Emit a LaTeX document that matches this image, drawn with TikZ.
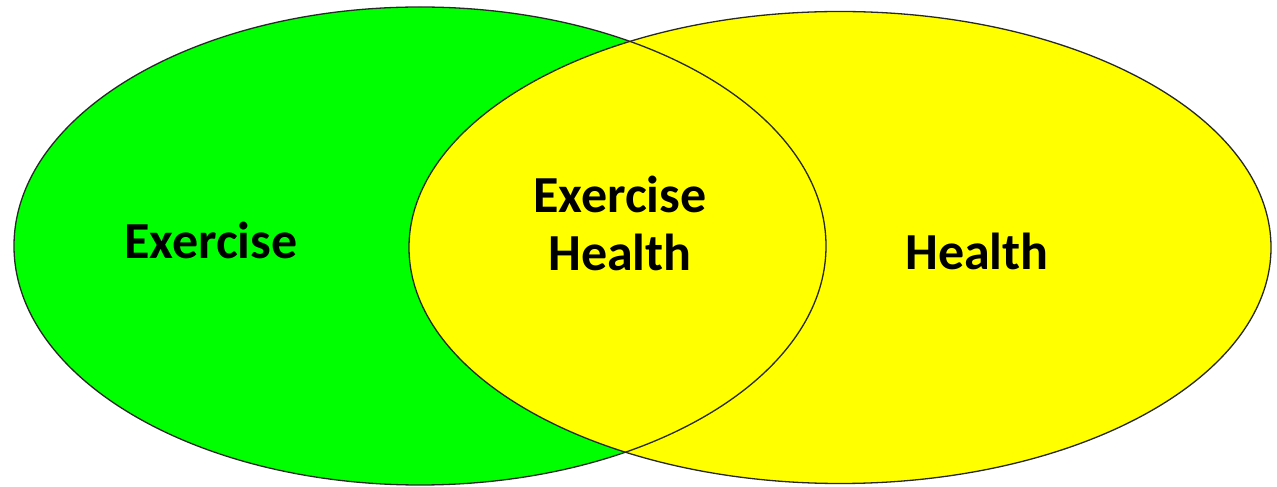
\documentclass[tikz,border=0pt]{standalone}
\usepackage{fontspec}
\setmainfont{Carlito}
\definecolor{vgreen}{RGB}{0,255,0}
\definecolor{vyellow}{RGB}{255,255,0}
\definecolor{vline}{RGB}{40,40,40}
\begin{document}
\begin{tikzpicture}[x=1pt,y=1pt,
  lbl/.style={anchor=base, inner sep=0pt, font=\fontsize{52}{58}\selectfont\bfseries, text=black},
  outline/.style={draw=vline, line width=1.3pt}]
\useasboundingbox[fill=white] (0,0) rectangle (1277,487);
% green ellipse (Exercise)
\fill[vgreen] (420,241) ellipse [x radius=406, y radius=239];
% yellow ellipse (Health)
\fill[vyellow] (840,239.5) ellipse [x radius=431, y radius=236];
\path[outline] (420,241) ellipse [x radius=406, y radius=239];
\path[outline] (840,239.5) ellipse [x radius=431, y radius=236];
\node[lbl] (ex) at (211,228) {Exercise};
\node[lbl] (exm) at (620,274) {Exercise};
\node[lbl] (hm) at (620,216) {Health};
\node[lbl] (he) at (977,217) {Health};
\end{tikzpicture}
\end{document}
